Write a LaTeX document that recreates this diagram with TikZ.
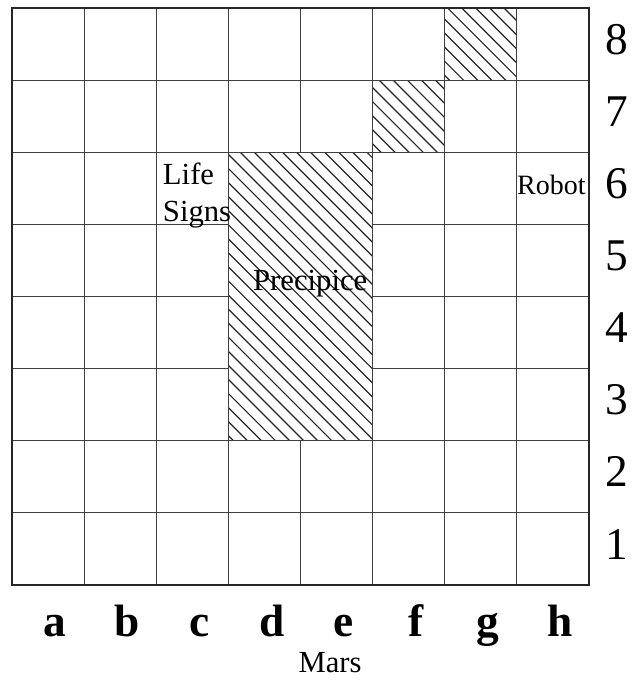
\documentclass[tikz,border=0pt]{standalone}
\usepackage{fontspec}
\setmainfont{Liberation Serif}
\usepackage{tikz}

\tikzset{
    cellline/.style={draw=black!75, line width=0.7pt},
    hatchline/.style={draw=black!85, line width=0.9pt},
    label/.style={font=\fontsize{23}{28}\selectfont, inner sep=0pt},
    coordlabel/.style={font=\fontsize{34}{40}\selectfont, inner sep=0pt, anchor=base}
}

\begin{document}
\begin{tikzpicture}[x=54.075pt, y=54.075pt]
        \useasboundingbox (-0.166,-1.331) rectangle (8.652,8.111);
        % board
        \foreach \i in {0,...,8} {
            \draw[cellline] (\i,0) -- (\i,8);
            \draw[cellline] (0,\i) -- (8,\i);
        }
        % cliffs
        \begin{scope}
            \clip (3,2) rectangle (5,6) (5,6) rectangle (6,7) (6,7) rectangle (7,8);
            \fill[white] (3,2) rectangle (7,8);
            \foreach \k in {0,0.195,...,16} {
                \draw[hatchline] (\k,0) -- ++(-8,8);
            }
        \end{scope}
        \draw[cellline] (3,2) rectangle (5,6) (5,6) rectangle (6,7) (6,7) rectangle (7,8);
        \draw[black!85, line width=0.9pt] (0,0) rectangle (8,8);
        \foreach \c [count=\i] in {a,b,c,d,e,f,g,h} {
            \node[coordlabel, font=\fontsize{34}{40}\selectfont\bfseries] (col\c) at (\i-0.4, -0.72) {\c};
        }
        \foreach \r in {1,...,8} {
            \node[coordlabel] (row\r) at (8.38, \r-0.64) {\r};
        }
        \node[label, anchor=base west, align=left] (lifesigns) at (2.09, 5.035) {Life\\Signs};
        \node[label, anchor=base west, font=\fontsize{21}{26}\selectfont] (robot) at (7.0, 5.41) {Robot};
        \node[label, anchor=base west] (precipice) at (3.34, 4.09) {Precipice};
        \node[label, anchor=base] (mars) at (4.41, -1.22) {Mars};
    \end{tikzpicture}
\end{document}
